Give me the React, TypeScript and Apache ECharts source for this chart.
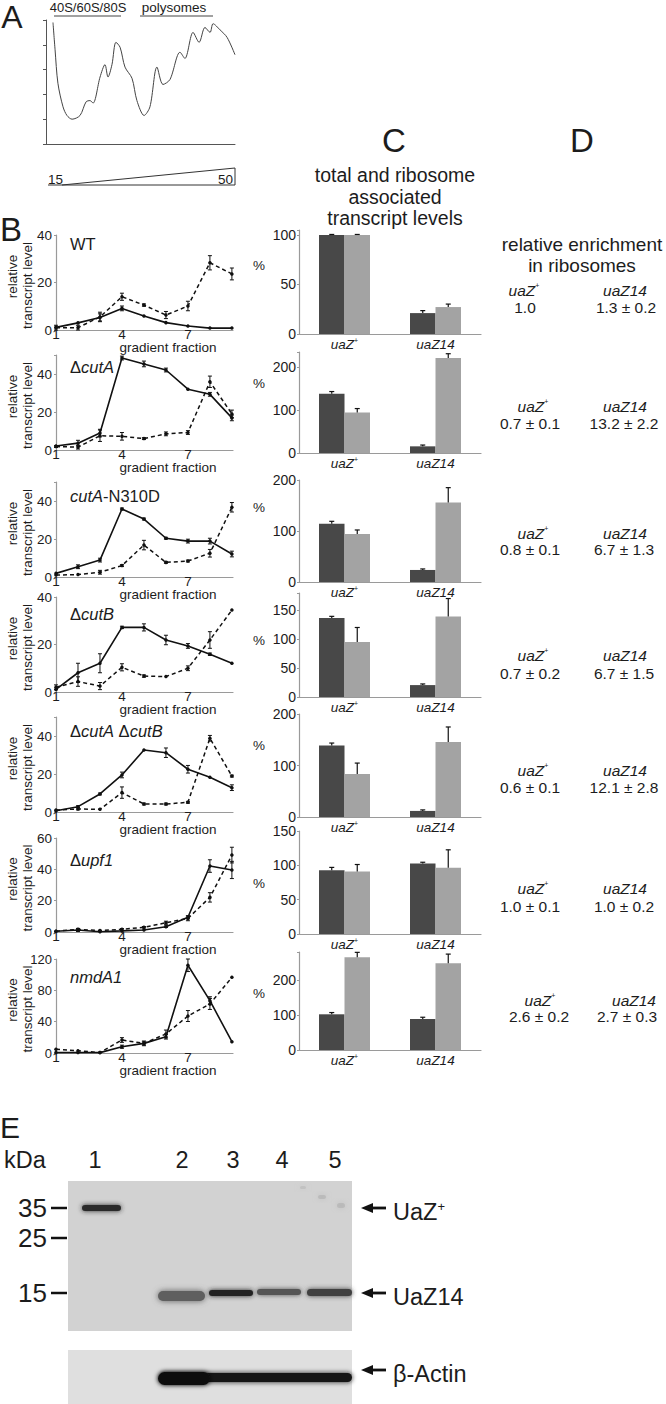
import { useEffect, useRef } from 'react';
import * as echarts from 'echarts';

const FONT = '"Liberation Sans", Arial, Helvetica, sans-serif';
const INK = '#1c1c1c';
const AXIS = '#9a9a9a';

// ---------------- Panel A : absorbance profile ----------------
const profileX = [3.7, 4.8, 6.3, 9.0, 11.1, 13.8, 18.0, 21.2, 23.3, 24.9, 28.6, 31.2, 32.8, 34.9, 37.0, 39.2, 41.8, 45.5, 48.1, 51.9, 55.0, 58.7, 61.9, 65.6, 70.9, 73.5, 77.8, 81.0, 84.1, 86.8, 88.4, 92.1, 95.8, 100];
const profileY = [98, 76, 49, 30, 23, 20, 23, 34, 35, 33, 54, 64, 54, 64, 82, 78, 62, 53, 35, 23, 30, 62, 48, 52, 74, 69, 90, 82, 94, 90, 97, 92, 86, 72];
const profileRegions = ['40S/60S/80S', 'polysomes'];
const gradientEnds = ['15', '50'];

// ---------------- Panel B : transcript levels per gradient fraction ----------------
const fractions = [1, 2, 3, 4, 5, 6, 7, 8, 9];
const fractionTicks = [1, 4, 7];
const strains = ['WT', 'ΔcutA', 'cutA-N310D', 'ΔcutB', 'ΔcutA ΔcutB', 'Δupf1', 'nmdA1'];

const wtSolid = [1.1, 3.0, 5.3, 9.1, 5.9, 3.1, 1.7, 0.8, 0.8];
const wtSolidErr = [0, 0, 1.5, 1, 0, 0, 0, 0, 0];
const wtDashed = [1.0, 1.0, 5.5, 14.0, 10.5, 6.3, 10.1, 28.3, 23.6];
const wtDashedErr = [1, 1, 2, 1.5, 0.5, 1.5, 2, 3, 2.5];

const cutASolid = [2.1, 3.6, 8.9, 48.4, 45.3, 42.1, 32.0, 29.3, 16.9];
const cutASolidErr = [0, 1.5, 2, 1, 1.5, 1, 0, 1, 1.5];
const cutADashed = [1.8, 1.5, 7.5, 7.2, 6.0, 8.5, 9.2, 35.9, 19.0];
const cutADashedErr = [0.5, 1, 3, 2, 0.5, 1, 1, 3, 2];

const n310dSolid = [1.9, 5.4, 8.9, 35.8, 30.5, 20.4, 18.9, 18.9, 12.1];
const n310dSolidErr = [0, 1, 1, 0.5, 0.5, 0.5, 1, 1.5, 1.5];
const n310dDashed = [1.0, 1.3, 2.5, 6.0, 16.8, 7.7, 8.4, 12.5, 36.7];
const n310dDashedErr = [0, 0, 1, 0.5, 2.5, 0.5, 0.5, 2, 2.5];

const cutBSolid = [1.1, 8.1, 12.1, 27.2, 27.2, 21.9, 19.4, 15.9, 12.1];
const cutBSolidErr = [0, 4, 4, 0.5, 1.5, 2, 1, 0.5, 0];
const cutBDashed = [2.0, 4.4, 2.5, 10.4, 6.7, 6.5, 10.0, 21.9, 34.5];
const cutBDashedErr = [1, 2, 1.5, 1.5, 0.5, 0, 1, 3.5, 0];

const cutABSolid = [0.7, 2.8, 9.5, 19.5, 32.6, 31.2, 22.5, 18.3, 12.8];
const cutABSolidErr = [0, 0.5, 0.5, 1.5, 0, 2.5, 2, 0, 1.5];
const cutABDashed = [1.0, 1.6, 1.4, 10.2, 4.2, 4.2, 5.1, 38.8, 18.9];
const cutABDashedErr = [0, 0.5, 0, 3, 0.5, 0.5, 0.5, 1.5, 0.5];

const upf1Solid = [0.5, 1.3, 0.2, 0.7, 1.3, 3.4, 9.4, 42.1, 39.6];
const upf1SolidErr = [0, 1, 0, 0, 0, 0.5, 1, 4, 5.5];
const upf1Dashed = [0.5, 1.7, 0.9, 1.7, 3.0, 5.9, 8.7, 22.1, 49.1];
const upf1DashedErr = [0, 0.5, 0, 0.5, 0.5, 1, 1.5, 3, 5];

const nmdSolid = [0.5, 0.5, 0.5, 8.0, 12.3, 20.8, 112, 66.8, 14.4];
const nmdSolidErr = [0, 0, 0, 2, 3, 3, 8, 5, 0];
const nmdDashed = [4.7, 3.0, 0.5, 16.6, 12.3, 24.3, 47.2, 62.6, 96.6];
const nmdDashedErr = [0, 0, 0, 3, 2, 5, 7, 7, 0];

const lineMax = [40, 50, 50, 40, 50, 60, 120];
const lineStep = [20, 20, 20, 20, 20, 20, 40];

// ---------------- Panel C : total (dark) and ribosome associated (light) levels, % ----------------
const genotypes = ['uaZ+', 'uaZ14'];
const totalLevels = [[100, 21.1], [138, 15.5], [114, 23.6], [136.6, 20.6], [138.6, 11.8], [93, 102.5], [102, 88.6]];
const totalErr = [[0.5, 2.5], [5, 3], [5, 2], [3, 2], [5, 2], [4, 2], [5, 5]];
const riboLevels = [[100, 27.2], [94.4, 221], [94, 156], [95.3, 139.4], [83.7, 145.8], [91.2, 96.6], [265, 248]];
const riboErr = [[0.5, 3], [9, 10], [8, 29], [25, 31], [21, 29], [10, 26], [14, 26]];
const barMax = [105, 235, 200, 180, 200, 150, 280];
const barStep = [50, 100, 100, 50, 100, 50, 100];

// ---------------- Panel D : relative enrichment in ribosomes ----------------
const enrichUaZMean = [1.0, 0.7, 0.8, 0.7, 0.6, 1.0, 2.6];
const enrichUaZSd = [null, 0.1, 0.1, 0.2, 0.1, 0.1, 0.2];
const enrichUaZ14Mean = [1.3, 13.2, 6.7, 6.7, 12.1, 1.0, 2.7];
const enrichUaZ14Sd = [0.2, 2.2, 1.3, 1.5, 2.8, 0.2, 0.3];

// ---------------- Panel E : western blot ----------------
const kdaMarkers = ['35', '25', '15'];
const lanes = ['1', '2', '3', '4', '5'];
const blotTargets = ['UaZ+', 'UaZ14', 'β-Actin'];

// ---------------- layout (pixels) ----------------
const LINE_LEFT = 56;
const LINE_RIGHT = 233;
const BAR_LEFT = 299;
const BAR_RIGHT = 481;
const lineFrames = [[235, 330], [355, 450], [482, 577], [597, 692], [717, 812], [838, 932], [959, 1053]];
const barFrames = [[230, 334], [352, 453], [480, 582], [593, 697], [714, 817], [831, 934], [952, 1050]];
const strainY = [244, 367, 496, 614, 731, 860, 977];
const percentY = [265, 383, 507, 640, 745, 883, 993];
const dLabelY = [290, 406, 533, 655, 770, 888, 1000];
const dValueY = [307, 423, 549, 673, 787, 906, 1016];
const dLabelX = [[524, 625], [533, 625], [533, 625], [533, 625], [533, 625], [533, 625], [540, 634]];
const dValueX = [[525, 626], [530, 624], [530, 624], [530, 624], [530, 624], [530, 624], [539, 627]];
const markerY = [1208, 1238, 1293];
const laneX = [95, 182, 233, 282, 335];
const targetY = [1208, 1293, 1370];

const lineSets = [
  [wtSolid, wtSolidErr, wtDashed, wtDashedErr],
  [cutASolid, cutASolidErr, cutADashed, cutADashedErr],
  [n310dSolid, n310dSolidErr, n310dDashed, n310dDashedErr],
  [cutBSolid, cutBSolidErr, cutBDashed, cutBDashedErr],
  [cutABSolid, cutABSolidErr, cutABDashed, cutABDashedErr],
  [upf1Solid, upf1SolidErr, upf1Dashed, upf1DashedErr],
  [nmdSolid, nmdSolidErr, nmdDashed, nmdDashedErr],
];

function strainMarkup(s: string) {
  return s
    .split(/(Δ|-N310D|WT| )/)
    .filter(Boolean)
    .map((t) => (/^(Δ|-N310D|WT| )$/.test(t) ? `{n|${t}}` : `{i|${t}}`))
    .join('');
}

function genotypeMarkup(g: string) {
  return g.endsWith('+') ? `{i|${g.slice(0, -1)}}{s|+}` : `{i|${g}}`;
}

function txt(x: number, y: number, text: string, o: any = {}) {
  const align = o.align ?? 'center';
  return {
    type: 'text',
    x,
    y,
    rotation: o.rotation ?? 0,
    z: 20,
    style: {
      text,
      fontSize: o.size ?? 14,
      fontFamily: FONT,
      fontStyle: o.italic ? 'italic' : 'normal',
      fill: o.color ?? INK,
      textAlign: align,
      align,
      textVerticalAlign: 'middle',
      verticalAlign: 'middle',
      lineHeight: o.lineHeight,
      rich: o.rich,
    },
  };
}

function seg(x1: number, y1: number, x2: number, y2: number, w = 1, c = INK) {
  return { type: 'line', z: 20, shape: { x1, y1, x2, y2 }, style: { stroke: c, lineWidth: w } };
}

function lineErrRender(params: any, api: any) {
  const e = api.value(2);
  if (!e) return { type: 'group', children: [] };
  const x = api.value(0);
  const y = api.value(1);
  const lo = api.coord([x, Math.max(0, y - e)]);
  const hi = api.coord([x, y + e]);
  const c = 2;
  const st = { stroke: '#111', lineWidth: 1 };
  return {
    type: 'group',
    children: [
      { type: 'line', shape: { x1: lo[0], y1: lo[1], x2: hi[0], y2: hi[1] }, style: st },
      { type: 'line', shape: { x1: lo[0] - c, y1: lo[1], x2: lo[0] + c, y2: lo[1] }, style: st },
      { type: 'line', shape: { x1: hi[0] - c, y1: hi[1], x2: hi[0] + c, y2: hi[1] }, style: st },
    ],
  };
}

const BAR_W = 25.5;
function barErrRender(params: any, api: any) {
  const e = api.value(2);
  const cat = api.value(0);
  const v = api.value(1);
  const dx = api.value(3) === 0 ? -BAR_W / 2 : BAR_W / 2;
  const base = api.coord([cat, v]);
  const top = api.coord([cat, v + e]);
  const x = base[0] + dx;
  const st = { stroke: '#111', lineWidth: 1.2 };
  return {
    type: 'group',
    children: [
      { type: 'line', shape: { x1: x, y1: base[1], x2: x, y2: top[1] }, style: st },
      { type: 'line', shape: { x1: x - 2.5, y1: top[1], x2: x + 2.5, y2: top[1] }, style: st },
    ],
  };
}

function buildOption() {
  const grid: any[] = [];
  const xAxis: any[] = [];
  const yAxis: any[] = [];
  const series: any[] = [];
  const el: any[] = [];

  // ---- Panel A
  grid.push({ left: 46, top: 20, width: 189, height: 124 });
  xAxis.push({
    gridIndex: 0, type: 'value', min: 0, max: 100,
    axisLine: { lineStyle: { color: '#555', width: 1 } },
    axisTick: { show: false }, axisLabel: { show: false }, splitLine: { show: false },
  });
  yAxis.push({
    gridIndex: 0, type: 'value', min: 0, max: 100, interval: 20,
    axisLine: { show: true, lineStyle: { color: '#555', width: 1 } },
    axisTick: { show: true, length: 3, lineStyle: { color: '#555' } },
    axisLabel: { show: false }, splitLine: { show: false },
  });
  series.push({
    type: 'line', xAxisIndex: 0, yAxisIndex: 0,
    data: profileX.map((x, i) => [x, profileY[i]]),
    smooth: 0.3, symbol: 'none', lineStyle: { color: '#444', width: 1 },
  });

  el.push(txt(12, 17, 'A', { size: 32 }));
  el.push(txt(88, 7, profileRegions[0], { size: 13, lineHeight: 13 }));
  el.push(seg(54, 16, 121, 16, 1.2, '#444'));
  el.push(txt(174, 7, profileRegions[1], { size: 13.5, lineHeight: 13 }));
  el.push(seg(140, 16, 213, 16, 1.2, '#444'));
  el.push({
    type: 'polyline', z: 20,
    shape: { points: [[48, 185], [235, 185], [235, 168], [62, 185]] },
    style: { stroke: '#333', lineWidth: 1, fill: null },
  });
  el.push(txt(48, 179, gradientEnds[0], { size: 13.5, align: 'left' }));
  el.push(txt(233, 179, gradientEnds[1], { size: 13.5, align: 'right' }));

  // ---- Panel B
  el.push(txt(11, 229, 'B', { size: 33 }));
  lineSets.forEach((set, i) => {
    const gi = 1 + i;
    const [top, bottom] = lineFrames[i];
    const max = lineMax[i];
    const step = lineStep[i];
    grid.push({ left: LINE_LEFT, top, width: LINE_RIGHT - LINE_LEFT, height: bottom - top });
    xAxis.push({
      gridIndex: gi, type: 'value', min: 1, max: 9.05, interval: 3,
      axisLine: { lineStyle: { color: AXIS, width: 1.2 } },
      axisTick: { show: false }, splitLine: { show: false },
      axisLabel: {
        margin: -1, fontSize: 13.5, lineHeight: 11, fontFamily: FONT, color: INK,
        formatter: (v: number) => (fractionTicks.includes(v) ? String(v) : ''),
      },
    });
    yAxis.push({
      gridIndex: gi, type: 'value', min: 0, max, interval: step,
      axisLine: { show: true, lineStyle: { color: AXIS, width: 1.2 } },
      axisTick: { show: true, length: 2, lineStyle: { color: AXIS } },
      splitLine: { show: false },
      axisLabel: {
        margin: 4, fontSize: i === 6 ? 13 : 13.5, lineHeight: 12, fontFamily: FONT, color: INK,
        formatter: (v: number) => (v % step === 0 ? String(v) : ''),
      },
    });
    const [solid, solidErr, dashed, dashedErr] = set;
    series.push({
      type: 'line', xAxisIndex: gi, yAxisIndex: gi, name: 'solid',
      data: fractions.map((f, j) => [f, solid[j]]),
      symbol: 'circle', symbolSize: 3.5, itemStyle: { color: '#111' },
      lineStyle: { color: '#111', width: 1.6 }, z: 3,
    });
    series.push({
      type: 'line', xAxisIndex: gi, yAxisIndex: gi, name: 'dashed',
      data: fractions.map((f, j) => [f, dashed[j]]),
      symbol: 'circle', symbolSize: 3.5, itemStyle: { color: '#111' },
      lineStyle: { color: '#111', width: 1.5, type: [4, 3] }, z: 3,
    });
    series.push({
      type: 'custom', xAxisIndex: gi, yAxisIndex: gi, renderItem: lineErrRender, z: 4,
      encode: { x: 0, y: 1 },
      data: fractions.map((f, j) => [f, solid[j], solidErr[j]]),
    });
    series.push({
      type: 'custom', xAxisIndex: gi, yAxisIndex: gi, renderItem: lineErrRender, z: 4,
      encode: { x: 0, y: 1 },
      data: fractions.map((f, j) => [f, dashed[j], dashedErr[j]]),
    });

    const mid = (top + bottom) / 2;
    el.push(txt(12.5, mid - 6, 'relative', { size: 13.5, lineHeight: 12, rotation: Math.PI / 2 }));
    el.push(txt(27.5, mid + 3, 'transcript level', { size: 13.5, lineHeight: 12, rotation: Math.PI / 2 }));
    el.push(txt(168, bottom + 17, 'gradient fraction', { size: 13.5, lineHeight: 11 }));
    el.push(
      txt(70, strainY[i], strainMarkup(strains[i]), {
        size: 16, align: 'left',
        rich: {
          n: { fontSize: 16.5, fontFamily: FONT, fill: INK },
          i: { fontSize: 16.5, fontFamily: FONT, fontStyle: 'italic', fill: INK },
        },
      })
    );
  });

  // ---- Panel C
  el.push(txt(394, 140, 'C', { size: 33 }));
  el.push(txt(395, 175, 'total and ribosome', { size: 19.5 }));
  el.push(txt(395, 197, 'associated', { size: 19.5 }));
  el.push(txt(395, 218, 'transcript levels', { size: 19.5 }));
  const genoRich = {
    i: { fontSize: 13.5, fontFamily: FONT, fontStyle: 'italic', color: INK, fill: INK },
    s: { fontSize: 7, fontFamily: FONT, verticalAlign: 'top', color: INK, fill: INK },
  };
  totalLevels.forEach((tot, i) => {
    const gi = 8 + i;
    const [top, bottom] = barFrames[i];
    const step = barStep[i];
    grid.push({ left: BAR_LEFT, top, width: BAR_RIGHT - BAR_LEFT, height: bottom - top });
    xAxis.push({
      gridIndex: gi, type: 'category', data: genotypes,
      axisLine: { lineStyle: { color: AXIS, width: 1.2 } },
      axisTick: { show: false }, splitLine: { show: false },
      axisLabel: { margin: 3, formatter: (v: string) => genotypeMarkup(v), rich: genoRich },
    });
    yAxis.push({
      gridIndex: gi, type: 'value', min: 0, max: barMax[i], interval: step,
      axisLine: { show: true, lineStyle: { color: AXIS, width: 1.2 } },
      axisTick: { show: true, length: 2, lineStyle: { color: AXIS } },
      splitLine: { show: false },
      axisLabel: {
        margin: 3, fontSize: 14, lineHeight: 12, fontFamily: FONT, color: INK,
        formatter: (v: number) => (v % step === 0 ? String(v) : ''),
      },
    });
    const ribo = riboLevels[i];
    series.push({
      type: 'bar', xAxisIndex: gi, yAxisIndex: gi, name: 'total', data: tot,
      barWidth: BAR_W, barGap: '0%', itemStyle: { color: '#484848' },
    });
    series.push({
      type: 'bar', xAxisIndex: gi, yAxisIndex: gi, name: 'ribosome associated', data: ribo,
      barWidth: BAR_W, barGap: '0%', itemStyle: { color: '#a3a3a3' },
    });
    series.push({
      type: 'custom', xAxisIndex: gi, yAxisIndex: gi, renderItem: barErrRender, z: 5,
      encode: { x: 0, y: 1 },
      data: [
        [0, tot[0], totalErr[i][0], 0],
        [1, tot[1], totalErr[i][1], 0],
        [0, ribo[0], riboErr[i][0], 1],
        [1, ribo[1], riboErr[i][1], 1],
      ],
    });
    el.push(txt(259, percentY[i], '%', { size: 13.5 }));
  });

  // ---- Panel D
  el.push(txt(582, 140, 'D', { size: 33 }));
  el.push(txt(582, 244, 'relative enrichment', { size: 19, lineHeight: 17 }));
  el.push(txt(582, 265, 'in ribosomes', { size: 19, lineHeight: 17 }));
  const dRich = {
    i: { fontSize: 15.5, fontFamily: FONT, fontStyle: 'italic', fill: INK },
    s: { fontSize: 7, fontFamily: FONT, verticalAlign: 'top', fill: INK },
  };
  const fmt = (m: number, s: number | null) => (s == null ? m.toFixed(1) : `${m.toFixed(1)} ± ${s.toFixed(1)}`);
  enrichUaZMean.forEach((m, i) => {
    el.push(txt(dLabelX[i][0], dLabelY[i], genotypeMarkup(genotypes[0]), { size: 15.5, rich: dRich }));
    el.push(txt(dLabelX[i][1], dLabelY[i], genotypeMarkup(genotypes[1]), { size: 15.5, rich: dRich }));
    el.push(txt(dValueX[i][0], dValueY[i], fmt(m, enrichUaZSd[i]), { size: 15.5 }));
    el.push(txt(dValueX[i][1], dValueY[i], fmt(enrichUaZ14Mean[i], enrichUaZ14Sd[i]), { size: 15.5 }));
  });

  // ---- Panel E
  el.push(txt(10, 1127, 'E', { size: 30 }));
  el.push(txt(4, 1160, 'kDa', { size: 23.5, align: 'left' }));
  lanes.forEach((l, i) => el.push(txt(laneX[i], 1160, l, { size: 23.5 })));
  el.push({ type: 'rect', z: 10, shape: { x: 68, y: 1181, width: 284, height: 150 }, style: { fill: '#d2d2d2' } });
  el.push({ type: 'rect', z: 10, shape: { x: 68, y: 1350, width: 284, height: 54 }, style: { fill: '#dfdfdf' } });
  const band = (x: number, y: number, w: number, h: number, fill: string, blur = 5, op = 1) => ({
    type: 'rect', z: 11, shape: { x, y, width: w, height: h, r: h / 2 },
    style: { fill, shadowBlur: blur, shadowColor: fill, opacity: op },
  });
  // faint smudges on the membrane
  el.push(band(300, 1186, 6, 3, '#aaaaaa', 6, 0.35));
  el.push(band(318, 1195, 8, 4, '#9a9a9a', 6, 0.35));
  el.push(band(337, 1203, 8, 5, '#9a9a9a', 6, 0.35));
  el.push(band(82, 1205, 39, 6, '#2a2a2a'));
  el.push(band(158, 1291, 47, 10, '#5e5e5e', 6));
  el.push(band(209, 1290, 44, 6, '#222'));
  el.push(band(257, 1289, 44, 6, '#555'));
  el.push(band(307, 1289, 45, 7, '#404040'));
  el.push(band(160, 1373, 192, 9, '#181818', 5));
  el.push(band(158, 1372, 52, 13, '#111', 5));
  kdaMarkers.forEach((k, i) => {
    el.push(txt(47, markerY[i], k, { size: 26, align: 'right' }));
    el.push(seg(51, markerY[i], 67, markerY[i], 2.5, '#111'));
  });
  blotTargets.forEach((t, i) => {
    const y = targetY[i];
    el.push(seg(368, y, 386, y, 2.8, '#111'));
    el.push({ type: 'polygon', z: 20, shape: { points: [[361, y], [373, y - 5], [373, y + 5]] }, style: { fill: '#111' } });
    const markup = t.endsWith('+') ? `{n|${t.slice(0, -1)}}{s|+}` : `{n|${t}}`;
    el.push(
      txt(393, y + 4, markup, {
        size: 23.5, align: 'left',
        rich: {
          n: { fontSize: 23.5, fontFamily: FONT, fill: INK },
          s: { fontSize: 13, fontFamily: FONT, verticalAlign: 'top', fill: INK },
        },
      })
    );
  });

  return {
    animation: false,
    backgroundColor: '#ffffff',
    textStyle: { fontFamily: FONT },
    grid,
    xAxis,
    yAxis,
    series,
    graphic: { elements: el },
  };
}

export default function App() {
  const ref = useRef<HTMLDivElement>(null);
  useEffect(() => {
    if (!ref.current) return;
    const chart = echarts.init(ref.current, null, { renderer: 'svg', width: 666, height: 1404 });
    chart.setOption(buildOption() as any);
    return () => chart.dispose();
  }, []);
  return (
    <div
      ref={ref}
      style={{ position: 'absolute', left: 0, top: 0, width: 666, height: 1404, background: '#fff' }}
    />
  );
}
